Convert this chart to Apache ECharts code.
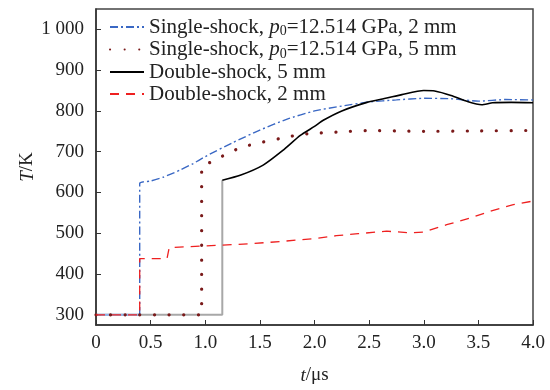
<!DOCTYPE html>
<html>
<head>
<meta charset="utf-8">
<script src="https://cdn.jsdelivr.net/npm/echarts@6/dist/echarts.min.js"></script>
<style>
html,body{margin:0;padding:0;background:#fff;}
#c{width:550px;height:390px;}
</style>
</head>
<body>
<div id="c"></div>
<script>
// ---- data ----
var xTicks = [0, 0.5, 1.0, 1.5, 2.0, 2.5, 3.0, 3.5, 4.0];
var yTicks = [300, 400, 500, 600, 700, 800, 900, 1000];

// Single-shock, p0=12.514 GPa, 2 mm (blue dash-dot)
var tSingle2 = [0.40, 0.40, 0.50, 0.62, 0.77, 0.89, 1.00, 1.25, 1.50, 1.75, 2.00, 2.25, 2.50, 2.75, 3.00, 3.25, 3.50, 3.75, 4.00];
var TSingle2 = [300, 622, 628, 638, 655, 671, 688, 722, 753, 780, 800, 812, 822, 827, 831, 830, 824, 828, 827];
var tSingle2Base = [0, 0.40];
var TSingle2Base = [300, 300];

// Single-shock, p0=12.514 GPa, 5 mm (dark red dotted)
var tSingle5 = [0, 0.967, 0.967, 1.07, 1.12, 1.20, 1.35, 1.50, 1.75, 1.87, 2.00, 2.25, 2.50, 2.75, 3.00, 3.50, 3.95];
var TSingle5 = [300, 300, 663, 676, 683, 696, 712, 722, 736, 742, 745, 749, 752, 751, 750, 751, 752];

// Double-shock, 5 mm (black solid, gray jump segment)
var tDouble5Jump = [0, 1.156, 1.156];
var TDouble5Jump = [300, 300, 630];
var tDouble5 = [1.156, 1.32, 1.53, 1.71, 1.87, 2.00, 2.08, 2.25, 2.48, 2.60, 2.80, 3.00, 3.10, 3.25, 3.40, 3.53, 3.63, 3.80, 4.00];
var TDouble5 = [630, 642, 667, 703, 740, 762, 777, 800, 821, 828, 840, 850, 849, 838, 823, 815, 820, 821, 820];

// Double-shock, 2 mm (red dashed)
var tDouble2 = [0, 0.40, 0.40, 0.65, 0.67, 1.00, 1.40, 1.70, 2.00, 2.20, 2.40, 2.66, 2.89, 3.00, 3.21, 3.42, 3.62, 3.82, 4.00];
var TDouble2 = [300, 300, 438, 438, 465, 469, 474, 480, 487, 494, 499, 505, 501, 503, 521, 537, 555, 570, 579];

function pairs(a, b) { return a.map(function (v, i) { return [v, b[i]]; }); }

var serif = 'Liberation Serif';
var chart = echarts.init(document.getElementById('c'), null, {renderer: 'canvas'});

var richLegend = {
  a: {fontFamily: serif, fontSize: 21, color: '#222'},
  i: {fontFamily: serif, fontSize: 21, fontStyle: 'italic', color: '#222'},
  s: {fontFamily: serif, fontSize: 14, color: '#222', padding: [9, 0, 0, 0]}
};
var names = ['S2', 'S5', 'D5', 'D2'];
var labels = {
  S2: '{a|Single-shock, }{i|p}{s|0}{a|=12.514 GPa, 2 mm}',
  S5: '{a|Single-shock, }{i|p}{s|0}{a|=12.514 GPa, 5 mm}',
  D5: '{a|Double-shock, 5 mm}',
  D2: '{a|Double-shock, 2 mm}'
};

var option = {
  animation: false,
  backgroundColor: '#fff',
  grid: {left: 96, right: 17, top: 9, bottom: 64, show: true, borderColor: '#444', borderWidth: 1.5},
  legend: {
    data: names,
    orient: 'vertical',
    left: 104,
    top: 11,
    itemWidth: 34,
    itemHeight: 10,
    itemGap: 0,
    itemStyle: {opacity: 0},
    formatter: function (n) { return labels[n]; },
    textStyle: {fontFamily: serif, fontSize: 21, lineHeight: 22, color: '#222', rich: richLegend}
  },
  xAxis: {
    type: 'value', min: 0, max: 4, interval: 0.5,
    name: '{i|t}{a|/μs}', nameLocation: 'middle', nameGap: 41, nameMoveOverlap: false,
    nameTextStyle: {rich: {i: {fontFamily: serif, fontSize: 19, fontStyle: 'italic', color: '#222'}, a: {fontFamily: serif, fontSize: 19, color: '#222'}}},
    axisLine: {show: true, onZero: false, lineStyle: {color: '#333', width: 1.5}},
    axisTick: {show: true, inside: true, length: 5, lineStyle: {color: '#333'}},
    splitLine: {show: false},
    axisLabel: {fontFamily: serif, fontSize: 19, color: '#222', margin: 9,
      formatter: function (v) { return v === 0 ? '0' : v.toFixed(1); }}
  },
  yAxis: {
    type: 'value', min: 275, max: 1050,
    name: '{i|T}{a|/K}', nameLocation: 'middle', nameGap: 59, nameRotate: 90, nameMoveOverlap: false,
    nameTextStyle: {rich: {i: {fontFamily: serif, fontSize: 19, fontStyle: 'italic', color: '#222'}, a: {fontFamily: serif, fontSize: 19, color: '#222'}}},
    axisLine: {show: true, onZero: false, lineStyle: {color: '#333', width: 1.5}},
    axisTick: {show: true, inside: true, length: 5, customValues: yTicks, lineStyle: {color: '#333'}},
    splitLine: {show: false},
    axisLabel: {fontFamily: serif, fontSize: 19, color: '#222', margin: 12, customValues: yTicks,
      formatter: function (v) { return v >= 1000 ? '1 000' : String(v); }}
  },
  series: [
    {type: 'line', name: 'D5g', data: pairs(tDouble5Jump, TDouble5Jump), symbol: 'none', z: 1,
      lineStyle: {color: '#a8a8a8', width: 2}},
    {type: 'line', name: 'S2b', data: pairs(tSingle2Base, TSingle2Base), symbol: 'none', z: 2,
      lineStyle: {color: '#8fb4ea', width: 2}},
    {type: 'line', name: 'S2', data: pairs(tSingle2, TSingle2), symbol: 'none', smooth: 0.2, z: 3,
      itemStyle: {color: '#2f5fc0'},
      lineStyle: {color: '#3a68c4', width: 1.4, type: [8, 3, 2, 3]}},
    {type: 'line', name: 'S5', data: pairs(tSingle5, TSingle5), symbol: 'none', smooth: 0.2, z: 4,
      itemStyle: {color: '#7a1a1a'},
      lineStyle: {color: '#7a1a1a', width: 3.2, type: [0.1, 14.5], cap: 'round'}},
    {type: 'line', name: 'D5', data: pairs(tDouble5, TDouble5), symbol: 'none', smooth: 0.2, z: 5,
      itemStyle: {color: '#000'},
      lineStyle: {color: '#000', width: 1.6}},
    {type: 'line', name: 'D2', data: pairs(tDouble2, TDouble2), symbol: 'none', z: 6,
      itemStyle: {color: '#ee2020'},
      lineStyle: {color: '#ee2020', width: 1.3, type: [9, 7]}}
  ]
};
chart.setOption(option);
</script>
</body>
</html>
